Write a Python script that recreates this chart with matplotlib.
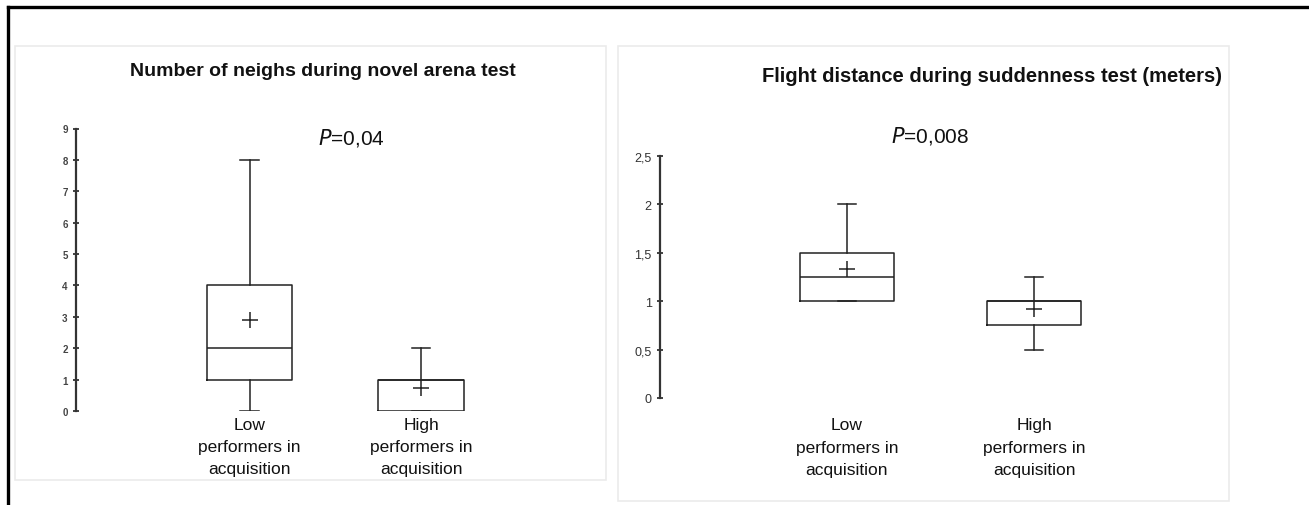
import matplotlib.pyplot as plt
from matplotlib.patches import Rectangle
from matplotlib.lines import Line2D

# Data
groups = ['Low\nperformers in\nacquisition', 'High\nperformers in\nacquisition']

neigh_min = [0, 0]
neigh_q1 = [1, 0]
neigh_med = [2, 1]
neigh_q3 = [4, 1]
neigh_max = [8, 2]
neigh_mean = [2.9, 0.72]

flight_min = [1.0, 0.5]
flight_q1 = [1.0, 0.75]
flight_med = [1.25, 1.0]
flight_q3 = [1.5, 1.0]
flight_max = [2.0, 1.25]
flight_mean = [1.33, 0.92]

neigh_ticks = [0, 1, 2, 3, 4, 5, 6, 7, 8, 9]
flight_ticks = [0, 0.5, 1, 1.5, 2, 2.5]
flight_ticklabels = ['0', '0,5', '1', '1,5', '2', '2,5']

W, H = 1309, 506
plt.rcParams['font.family'] = ['Liberation Sans', 'DejaVu Sans']
fig = plt.figure(figsize=(W / 100, H / 100), dpi=100)
ink = '#222222'


def px(x0, y0, x1, y1):
    # pixel box (top-left origin) -> figure fraction [l, b, w, h]
    return [x0 / W, 1 - y1 / H, (x1 - x0) / W, (y1 - y0) / H]


def make_stats(lo, q1, med, q3, hi, mean):
    return [dict(whislo=lo[i], q1=q1[i], med=med[i], q3=q3[i], whishi=hi[i],
                 mean=mean[i], fliers=[]) for i in range(len(lo))]


def draw_box(ax, stats, width, capw):
    line = dict(color=ink, linewidth=1.1)
    ax.bxp(stats, positions=[1, 2], widths=width, showmeans=True, showfliers=False,
           capwidths=capw, boxprops=line, whiskerprops=line, capprops=line,
           medianprops=line,
           meanprops=dict(marker='+', markersize=11, markeredgecolor=ink,
                          markeredgewidth=1.1))
    for s in ['top', 'right', 'bottom']:
        ax.spines[s].set_visible(False)
    ax.spines['left'].set_linewidth(1.6)
    ax.spines['left'].set_color('#333333')
    ax.tick_params(axis='y', direction='inout', length=5, width=1.3, colors='#333333')
    ax.tick_params(axis='x', length=0)
    ax.patch.set_alpha(0)


# panel frames and outer border
fig.patches.append(Rectangle((15 / W, 1 - 481 / H), (606 - 15) / W, (481 - 47) / H,
                             transform=fig.transFigure, fill=False,
                             edgecolor='#ebebeb', linewidth=1.2))
fig.patches.append(Rectangle((618 / W, 1 - 502 / H), (1229 - 618) / W, (502 - 47) / H,
                             transform=fig.transFigure, fill=False,
                             edgecolor='#ebebeb', linewidth=1.2))
fig.lines.append(Line2D([8 / W, 1], [1 - 8 / H, 1 - 8 / H], transform=fig.transFigure,
                        color='black', linewidth=2.4))
fig.lines.append(Line2D([8 / W, 8 / W], [1 - 8 / H, 0], transform=fig.transFigure,
                        color='black', linewidth=2.4))

# left panel
ax1 = fig.add_axes(px(76, 129.5, 560, 412))
draw_box(ax1, make_stats(neigh_min, neigh_q1, neigh_med, neigh_q3, neigh_max, neigh_mean),
         0.5, 0.105)
ax1.set_ylim(0, 9)
ax1.set_xlim(1 - (249.5 - 76) / 171.5, 1 + (560 - 249.5) / 171.5)
ax1.set_yticks(neigh_ticks)
ax1.set_yticklabels([str(t) for t in neigh_ticks], fontsize=7, fontweight='bold',
                    color='#444444')
ax1.set_xticks([1, 2])
ax1.set_xticklabels(groups, fontsize=12.5, linespacing=1.6, color='#111111')
ax1.tick_params(axis='x', pad=4)
fig.text(323 / W, 1 - 72 / H, 'Number of neighs during novel arena test', ha='center',
         va='center', fontsize=14, fontweight='bold', color='#111111')
fig.text(351 / W, 1 - 138 / H, r'$\it{P}$=0,04', ha='center', va='center', fontsize=15,
         color='#111111')

# right panel
ax2 = fig.add_axes(px(660, 157, 1200, 399))
draw_box(ax2, make_stats(flight_min, flight_q1, flight_med, flight_q3, flight_max,
                         flight_mean), 0.5, 0.1)
ax2.set_ylim(0, 2.5)
ax2.set_xlim(1 - (847 - 660) / 187, 1 + (1200 - 847) / 187)
ax2.set_yticks(flight_ticks)
ax2.set_yticklabels(flight_ticklabels, fontsize=9, color='#333333')
ax2.set_xticks([1, 2])
ax2.set_xticklabels(groups, fontsize=12.5, linespacing=1.6, color='#111111')
ax2.tick_params(axis='x', pad=14)
fig.text(992 / W, 1 - 76 / H, 'Flight distance during suddenness test (meters)',
         ha='center', va='center', fontsize=14.5, fontweight='bold', color='#111111')
fig.text(930 / W, 1 - 136 / H, r'$\it{P}$=0,008', ha='center', va='center', fontsize=15,
         color='#111111')

fig.savefig('out.png', dpi=100)
